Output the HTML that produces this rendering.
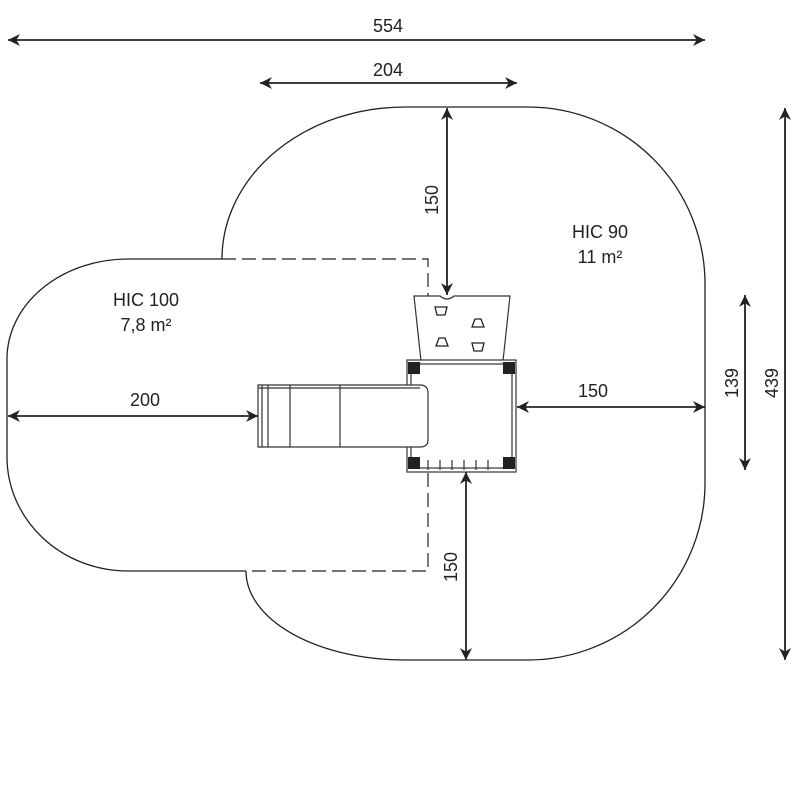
<!DOCTYPE html>
<html><head><style>
html,body{margin:0;padding:0;background:#fff;}
svg{display:block;}
text{font-family:"Liberation Sans",sans-serif;font-size:18px;fill:#222;}
</style></head><body>
<svg width="800" height="800" viewBox="0 0 800 800" xmlns="http://www.w3.org/2000/svg">
<defs>
<marker id="a" viewBox="0 0 10 10" refX="10" refY="5" markerWidth="12" markerHeight="12" markerUnits="userSpaceOnUse" orient="auto-start-reverse">
<path d="M0,0 L10,5 L0,10 L3,5 z" fill="#222"/>
</marker>
</defs>
<g fill="none" stroke="#222" stroke-width="1.3">
<path d="M222,259 A183,152 0 0 1 405,107 L528,107 A177,177 0 0 1 705,284 L705,483 A177,177 0 0 1 528,660 L405,660 A159,89 0 0 1 246,571"/>
<path d="M222,259 L128,259 A121,100 0 0 0 7,359 L7,457 A121,114 0 0 0 128,571 L246,571"/>
</g>
<g fill="none" stroke="#222" stroke-width="1.2" stroke-dasharray="14,6">
<path d="M222,259 L428,259 L428,571 L246,571"/>
</g>
<g stroke="#222" stroke-width="1.8" marker-start="url(#a)" marker-end="url(#a)">
<line x1="8" y1="40" x2="705" y2="40"/>
<line x1="260" y1="83" x2="517" y2="83"/>
<line x1="447" y1="108" x2="447" y2="295"/>
<line x1="745" y1="295" x2="745" y2="470"/>
<line x1="785" y1="108" x2="785" y2="660"/>
<line x1="8" y1="416" x2="258" y2="416"/>
<line x1="517" y1="407" x2="705" y2="407"/>
<line x1="466" y1="472" x2="466" y2="660"/>
</g>
<text x="388" y="32" text-anchor="middle">554</text>
<text x="388" y="76" text-anchor="middle">204</text>
<text x="145" y="406" text-anchor="middle">200</text>
<text x="593" y="397" text-anchor="middle">150</text>
<text transform="translate(438,200) rotate(-90)" text-anchor="middle">150</text>
<text transform="translate(457,567) rotate(-90)" text-anchor="middle">150</text>
<text transform="translate(738,383) rotate(-90)" text-anchor="middle">139</text>
<text transform="translate(778,383) rotate(-90)" text-anchor="middle">439</text>
<text x="146" y="306" text-anchor="middle">HIC 100</text>
<text x="146" y="331" text-anchor="middle">7,8 m²</text>
<text x="600" y="238" text-anchor="middle">HIC 90</text>
<text x="600" y="263" text-anchor="middle">11 m²</text>
<g fill="#fff" stroke="#333" stroke-width="1.2">
<path d="M414,296 L440,296 Q447,302 454,296 L510,296 L503,361 L421,361 Z"/>
<rect x="407" y="360" width="109" height="112"/>
<rect x="411" y="364" width="101" height="104"/>
</g>
<g fill="none" stroke="#333" stroke-width="1.2">
<path d="M258,385 L420,385 Q428,385 428,393 L428,440 Q428,447 420,447 L258,447 Z" fill="#fff"/>
<line x1="258" y1="388" x2="420" y2="388"/>
<line x1="262" y1="385" x2="262" y2="447"/>
<line x1="268" y1="385" x2="268" y2="447"/>
<line x1="290" y1="385" x2="290" y2="447"/>
<line x1="340" y1="385" x2="340" y2="447"/>
</g>
<g fill="#222">
<rect x="408" y="362" width="12" height="12"/>
<rect x="503" y="362" width="12" height="12"/>
<rect x="408" y="457" width="12" height="12"/>
<rect x="503" y="457" width="12" height="12"/>
</g>
<g fill="#fff" stroke="#222" stroke-width="1.3">
<path d="M435,307 h12 l-2,8 h-8 z"/>
<path d="M472,327 l3,-8 h6 l3,8 z"/>
<path d="M436,346 l3,-8 h6 l3,8 z"/>
<path d="M472,343 h12 l-2,8 h-8 z"/>
</g>
<g stroke="#333" stroke-width="1.2">
<line x1="428" y1="460" x2="428" y2="470"/>
<line x1="440" y1="460" x2="440" y2="470"/>
<line x1="452" y1="460" x2="452" y2="470"/>
<line x1="464" y1="460" x2="464" y2="470"/>
<line x1="476" y1="460" x2="476" y2="470"/>
<line x1="488" y1="460" x2="488" y2="470"/>
</g>
</svg>
</body></html>
